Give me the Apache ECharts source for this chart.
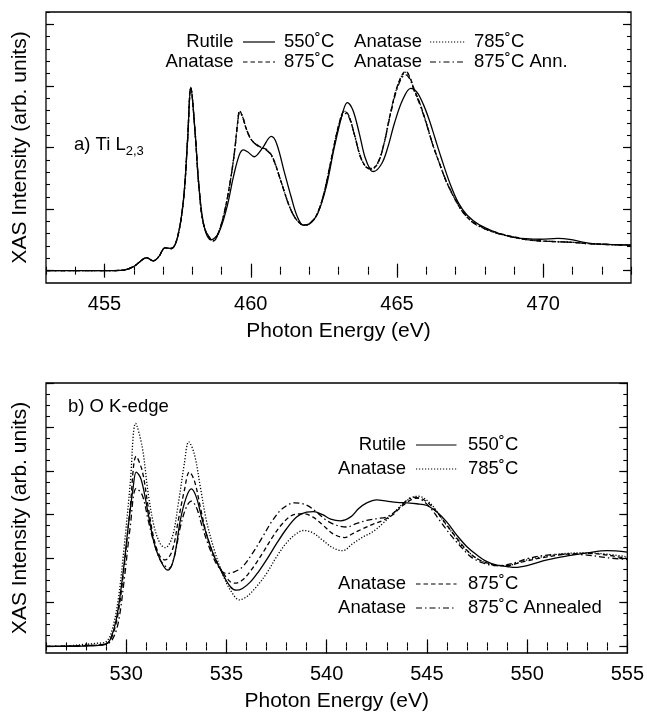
<!DOCTYPE html>
<html>
<head>
<meta charset="utf-8">
<script src="https://cdn.jsdelivr.net/npm/echarts@6/dist/echarts.min.js"></script>
<style>
  html, body { margin: 0; padding: 0; background: #fff; }
  #chart { width: 647px; height: 715px; }
</style>
</head>
<body>
<div id="chart"></div>
<script>
// ---- a) Ti L2,3 ----
const tiMajorTicks = [455, 460, 465, 470];
const tiRutileE = [453, 455, 455.66, 455.99, 456.22, 456.43, 456.67, 456.86, 457.07, 457.28, 457.49, 457.7, 457.84, 457.95, 458.1, 458.23, 458.41, 458.64, 458.9, 459.19, 459.41, 459.61, 459.75, 459.89, 460.12, 460.4, 460.7, 460.88, 461.16, 461.38, 461.59, 461.8, 462.01, 462.29, 462.58, 462.86, 463.17, 463.3, 463.49, 463.71, 463.9, 464.1, 464.2, 464.48, 464.69, 464.91, 465.19, 465.47, 465.68, 465.9, 466.1, 466.3, 466.5, 466.8, 467.1, 467.4, 467.8, 468.4, 468.9, 469.4, 469.9, 470.5, 470.9, 471.4, 471.9, 473];
const tiRutileI = [0, 0, 0.01, 0.065, 0.15, 0.21, 0.16, 0.23, 0.37, 0.36, 0.53, 1.15, 2.12, 2.98, 2.23, 1.36, 0.71, 0.5, 0.61, 1.04, 1.53, 1.88, 1.96, 1.93, 1.85, 1.99, 2.18, 2.07, 1.58, 1.2, 0.88, 0.74, 0.76, 0.93, 1.36, 2.01, 2.61, 2.73, 2.61, 2.23, 1.85, 1.63, 1.61, 1.74, 2.01, 2.39, 2.77, 2.96, 2.9, 2.7, 2.45, 2.15, 1.85, 1.43, 1.1, 0.9, 0.75, 0.62, 0.55, 0.52, 0.51, 0.525, 0.51, 0.46, 0.43, 0.42];
const tiAnataseE = [453, 455, 455.66, 455.99, 456.22, 456.43, 456.67, 456.86, 457.07, 457.28, 457.49, 457.7, 457.84, 457.95, 458.1, 458.23, 458.41, 458.73, 458.9, 459.1, 459.3, 459.45, 459.55, 459.62, 459.72, 459.85, 460.03, 460.32, 460.53, 460.74, 461.02, 461.3, 461.5, 461.7, 461.8, 462.0, 462.25, 462.5, 462.75, 463.0, 463.2, 463.35, 463.55, 463.75, 463.95, 464.13, 464.35, 464.55, 464.75, 464.95, 465.15, 465.3, 465.45, 465.6, 465.78, 466.0, 466.24, 466.5, 466.7, 467.04, 467.3, 467.6, 468.0, 468.4, 469, 469.5, 470, 470.5, 471, 471.5, 472, 473];
const tiAn785I = [0, 0, 0.01, 0.065, 0.15, 0.21, 0.16, 0.23, 0.37, 0.36, 0.53, 1.15, 2.12, 2.97, 2.23, 1.36, 0.71, 0.48, 0.62, 0.95, 1.45, 1.95, 2.4, 2.59, 2.5, 2.3, 2.12, 2.01, 1.97, 1.85, 1.47, 1.07, 0.87, 0.76, 0.74, 0.76, 0.9, 1.25, 1.8, 2.35, 2.59, 2.52, 2.2, 1.85, 1.68, 1.65, 1.75, 2.05, 2.5, 2.9, 3.15, 3.22, 3.12, 2.92, 2.72, 2.4, 2.02, 1.68, 1.43, 1.11, 0.92, 0.78, 0.68, 0.61, 0.54, 0.5, 0.48, 0.47, 0.46, 0.44, 0.43, 0.41];
const tiAn875I = [0, 0, 0.01, 0.065, 0.15, 0.21, 0.16, 0.23, 0.37, 0.36, 0.53, 1.15, 2.12, 2.97, 2.23, 1.36, 0.71, 0.48, 0.62, 0.95, 1.45, 1.95, 2.4, 2.6, 2.5, 2.3, 2.12, 2.01, 1.97, 1.85, 1.47, 1.07, 0.87, 0.76, 0.74, 0.76, 0.9, 1.25, 1.8, 2.35, 2.59, 2.52, 2.2, 1.85, 1.68, 1.65, 1.75, 2.05, 2.5, 2.9, 3.16, 3.24, 3.13, 2.93, 2.72, 2.4, 2.02, 1.68, 1.43, 1.11, 0.92, 0.79, 0.69, 0.62, 0.55, 0.5, 0.48, 0.47, 0.46, 0.44, 0.43, 0.41];
const tiAnAnnI = [0, 0, 0.01, 0.065, 0.15, 0.21, 0.16, 0.23, 0.37, 0.36, 0.53, 1.15, 2.12, 2.96, 2.23, 1.36, 0.71, 0.49, 0.62, 0.95, 1.45, 1.95, 2.38, 2.57, 2.5, 2.3, 2.12, 2.0, 1.96, 1.84, 1.47, 1.07, 0.87, 0.76, 0.74, 0.76, 0.9, 1.25, 1.8, 2.33, 2.56, 2.5, 2.2, 1.85, 1.68, 1.66, 1.76, 2.05, 2.48, 2.87, 3.12, 3.18, 3.1, 2.9, 2.7, 2.39, 2.02, 1.68, 1.44, 1.12, 0.93, 0.78, 0.68, 0.61, 0.54, 0.5, 0.48, 0.47, 0.46, 0.44, 0.43, 0.41];

// ---- b) O K-edge ----
const oMajorTicks = [530, 535, 540, 545, 550, 555];
const oRutileE = [526, 527, 528, 528.5, 529, 529.2, 529.5, 529.8, 530.1, 530.35, 530.5, 530.75, 531.1, 531.4, 531.7, 532.0, 532.1, 532.4, 532.7, 533.0, 533.25, 533.5, 533.8, 534.1, 534.4, 534.8, 535.2, 535.5, 535.8, 536.2, 536.6, 537, 537.5, 538, 538.5, 539, 539.35, 539.8, 540.2, 540.7, 541.2, 541.6, 542, 542.5, 543, 543.5, 544, 544.5, 545, 545.5, 546, 546.5, 547, 547.5, 548, 548.5, 549, 549.4, 550, 551, 552, 553, 554, 555];
const oRutileI = [0, 0, 0.01, 0.02, 0.06, 0.15, 0.6, 1.51, 2.72, 3.63, 3.97, 3.8, 3.02, 2.34, 1.97, 1.75, 1.74, 2.04, 2.87, 3.4, 3.59, 3.4, 2.87, 2.42, 2.04, 1.66, 1.36, 1.28, 1.32, 1.47, 1.7, 1.97, 2.34, 2.68, 2.95, 3.06, 3.07, 3.0, 2.9, 2.86, 2.95, 3.14, 3.27, 3.34, 3.31, 3.28, 3.27, 3.25, 3.21, 3.06, 2.83, 2.53, 2.27, 2.08, 1.93, 1.85, 1.82, 1.8, 1.84, 1.97, 2.06, 2.13, 2.18, 2.15];
const oAn785E = [526, 527, 528, 528.5, 529, 529.3, 529.6, 529.9, 530.2, 530.47, 530.8, 531.1, 531.4, 531.7, 531.95, 532.3, 532.6, 532.9, 533.12, 533.4, 533.7, 534, 534.4, 534.8, 535.2, 535.65, 536, 536.5, 537, 537.5, 538, 538.5, 538.85, 539.3, 539.8, 540.3, 540.8, 541.3, 541.8, 542.3, 542.8, 543.3, 543.8, 544.3, 544.6, 545, 545.4, 545.8, 546.3, 546.8, 547.5, 548, 548.5, 549, 549.5, 550, 551, 552, 553, 554, 555];
const oAn785I = [0, 0.01, 0.05, 0.07, 0.11, 0.38, 1.06, 2.27, 3.7, 5.08, 4.54, 3.48, 2.72, 2.34, 2.25, 2.49, 3.25, 4.16, 4.66, 4.38, 3.63, 2.87, 2.19, 1.66, 1.28, 1.06, 1.13, 1.36, 1.66, 2.04, 2.36, 2.57, 2.64, 2.59, 2.42, 2.25, 2.18, 2.34, 2.49, 2.61, 2.8, 3.02, 3.25, 3.4, 3.42, 3.33, 3.14, 2.87, 2.57, 2.27, 2.0, 1.9, 1.84, 1.84, 1.9, 1.97, 2.06, 2.12, 2.13, 2.1, 2.04];
const oAn875E = [526, 528, 529, 529.3, 529.6, 529.9, 530.2, 530.5, 530.8, 531.1, 531.4, 531.7, 531.95, 532.3, 532.6, 532.9, 533.15, 533.4, 533.7, 534, 534.4, 534.8, 535.2, 535.4, 535.8, 536.3, 536.8, 537.3, 537.8, 538.3, 538.85, 539.3, 539.8, 540.3, 540.9, 541.3, 541.8, 542.3, 542.8, 543.3, 543.8, 544.3, 544.6, 545, 545.5, 546, 546.5, 547, 547.5, 548, 548.5, 549, 549.5, 550, 551, 552, 553, 554, 555];
const oAn875I = [0, 0.02, 0.06, 0.23, 0.76, 1.81, 3.17, 4.33, 4.0, 3.17, 2.42, 2.04, 1.97, 2.19, 2.87, 3.55, 3.97, 3.78, 3.17, 2.57, 2.04, 1.7, 1.47, 1.44, 1.51, 1.78, 2.12, 2.49, 2.8, 2.99, 3.02, 2.95, 2.77, 2.57, 2.48, 2.57, 2.68, 2.78, 2.87, 3.0, 3.21, 3.36, 3.38, 3.29, 3.06, 2.76, 2.46, 2.19, 2.0, 1.9, 1.85, 1.84, 1.89, 1.95, 2.04, 2.1, 2.12, 2.08, 2.0];
const oAnAnnE = [526, 528, 529, 529.3, 529.6, 529.9, 530.2, 530.5, 530.8, 531.1, 531.4, 531.7, 532.0, 532.15, 532.4, 532.7, 533.0, 533.25, 533.5, 533.8, 534.2, 534.6, 535.0, 535.4, 535.8, 536.3, 536.8, 537.3, 537.8, 538.4, 539, 539.5, 540, 540.5, 541, 541.5, 542, 542.5, 543, 543.5, 544, 544.3, 544.7, 545.2, 545.7, 546.2, 546.7, 547.2, 547.8, 548.5, 549, 549.5, 550, 551, 552, 553, 554, 555];
const oAnAnnI = [0, 0.02, 0.05, 0.15, 0.53, 1.51, 2.72, 3.6, 3.45, 2.87, 2.34, 1.97, 1.81, 1.78, 2.04, 2.72, 3.17, 3.31, 3.17, 2.72, 2.19, 1.81, 1.66, 1.7, 1.81, 2.12, 2.49, 2.87, 3.14, 3.27, 3.22, 3.06, 2.87, 2.76, 2.72, 2.8, 2.87, 2.91, 2.95, 3.1, 3.33, 3.4, 3.35, 3.14, 2.83, 2.53, 2.27, 2.04, 1.9, 1.84, 1.86, 1.92, 2.0, 2.08, 2.1, 2.08, 2.02, 1.98];

const FONT = 'Liberation Sans, Arial, Helvetica, sans-serif';
const DOT = [1.2, 1.8], DASH = [4.5, 3], DASHDOT = [6, 3, 1.5, 3];

function range(a, b, step) {
  let out = [];
  for (let v = a; v <= b + 1e-9; v += step) out.push(Math.round(v * 1000) / 1000);
  return out;
}
function zip(xs, ys) { return xs.map((x, i) => [x, ys[i]]); }

// 4 axes per side: major/minor ticks on bottom+top and left+right
function xAxes(grid, min, max, major, minorStep) {
  const minor = range(min, max, minorStep);
  const base = {
    type: 'value', gridIndex: grid, min: min, max: max,
    axisLine: {show: false}, splitLine: {show: false}
  };
  return [
    Object.assign({}, base, {
      position: 'bottom',
      axisTick: {inside: true, length: 7, customValues: major, lineStyle: {color: '#000', width: 1.2}},
      axisLabel: {customValues: major, fontSize: 20, fontFamily: FONT, color: '#000', margin: 11},
      name: 'Photon Energy (eV)', nameLocation: 'middle', nameGap: 38,
      nameTextStyle: {fontSize: 21, fontFamily: FONT, color: '#000'}
    }),
    Object.assign({}, base, {
      position: 'bottom', axisLabel: {show: false},
      axisTick: {inside: true, length: 4, customValues: minor, lineStyle: {color: '#000', width: 1.1}}
    }),
    Object.assign({}, base, {
      position: 'top', axisLabel: {show: false},
      axisTick: {inside: true, length: 7, customValues: major, lineStyle: {color: '#000', width: 1.2}}
    }),
    Object.assign({}, base, {
      position: 'top', axisLabel: {show: false},
      axisTick: {inside: true, length: 4, customValues: minor, lineStyle: {color: '#000', width: 1.1}}
    })
  ];
}
function yAxes(grid, min, max, majorStep, minorStep, topMajor) {
  const major = range(0, topMajor, majorStep);
  const minor = range(0, max, minorStep);
  const base = {
    type: 'value', gridIndex: grid, min: min, max: max,
    axisLine: {show: false}, splitLine: {show: false}, axisLabel: {show: false}
  };
  return [
    Object.assign({}, base, {
      position: 'left',
      axisTick: {inside: true, length: 8, customValues: major, lineStyle: {color: '#000', width: 1.2}},
      name: 'XAS Intensity (arb. units)', nameLocation: 'middle', nameGap: 15,
      nameTextStyle: {fontSize: 21, fontFamily: FONT, color: '#000'}
    }),
    Object.assign({}, base, {
      position: 'left',
      axisTick: {inside: true, length: 4, customValues: minor, lineStyle: {color: '#000', width: 1.1}}
    }),
    Object.assign({}, base, {
      position: 'right',
      axisTick: {inside: true, length: 8, customValues: major, lineStyle: {color: '#000', width: 1.2}}
    }),
    Object.assign({}, base, {
      position: 'right',
      axisTick: {inside: true, length: 4, customValues: minor, lineStyle: {color: '#000', width: 1.1}}
    })
  ];
}
function curve(xIdx, yIdx, xs, ys, dash) {
  return {
    type: 'line', xAxisIndex: xIdx, yAxisIndex: yIdx,
    data: zip(xs, ys), showSymbol: false, smooth: 0.35,
    lineStyle: {color: '#000', width: 1.3, type: dash || 'solid'},
    z: 3
  };
}

// legend built from graphic pieces: "Name —— Temp"
function legendRow(rightX, lineX1, lineX2, textX, y, left, dash, right) {
  return [
    {type: 'text', x: rightX, y: y, style: {text: left, font: '18.5px ' + FONT, fill: '#000', align: 'right', verticalAlign: 'middle'}},
    {type: 'line', shape: {x1: lineX1, y1: y, x2: lineX2, y2: y}, style: {stroke: '#000', lineWidth: 1.2, lineDash: dash}},
    {type: 'text', x: textX, y: y, style: {text: right, font: '18.5px ' + FONT, fill: '#000', align: 'left', verticalAlign: 'middle'}}
  ];
}

const graphics = [].concat(
  legendRow(233.5, 243, 275, 284, 42, 'Rutile', null, '550˚C'),
  legendRow(422, 430, 465, 474, 42, 'Anatase', DOT, '785˚C'),
  legendRow(233.5, 243, 275, 284, 62, 'Anatase', DASH, '875˚C'),
  legendRow(422, 430, 465, 474, 62, 'Anatase', DASHDOT, '875˚C Ann.'),
  legendRow(406, 416, 456.5, 468, 445, 'Rutile', null, '550˚C'),
  legendRow(406, 416, 456.5, 468, 469, 'Anatase', DOT, '785˚C'),
  legendRow(406, 416, 456.5, 468, 584, 'Anatase', DASH, '875˚C'),
  legendRow(406, 416, 456.5, 468, 608, 'Anatase', DASHDOT, '875˚C Annealed'),
  [
    {type: 'text', x: 74, y: 145, style: {
      text: 'a) Ti L{sub|2,3}', font: '18.5px ' + FONT, fill: '#000', verticalAlign: 'middle',
      rich: {sub: {font: '13px ' + FONT, fill: '#000', padding: [12, 0, 0, 0]}}
    }},
    {type: 'text', x: 68, y: 407, style: {text: 'b) O K-edge', font: '18.5px ' + FONT, fill: '#000', verticalAlign: 'middle'}}
  ]
);

const chart = echarts.init(document.getElementById('chart'), null, {renderer: 'canvas'});
chart.setOption({
  animation: false,
  backgroundColor: '#fff',
  grid: [
    {left: 46, top: 12, width: 585, height: 271, show: true, borderColor: '#000', borderWidth: 1.3, backgroundColor: 'transparent'},
    {left: 46, top: 383, width: 585, height: 270, show: true, borderColor: '#000', borderWidth: 1.3, backgroundColor: 'transparent'}
  ],
  xAxis: [].concat(
    xAxes(0, 453, 473, tiMajorTicks, 1),
    xAxes(1, 526, 555, oMajorTicks, 1)
  ),
  yAxis: [].concat(
    yAxes(0, -0.2, 4.2, 1, 0.2, 4),
    yAxes(1, -0.15, 6, 1, 0.25, 6)
  ),
  series: [
    curve(0, 0, tiRutileE, tiRutileI),
    curve(0, 0, tiAnataseE, tiAn785I, DOT),
    curve(0, 0, tiAnataseE, tiAn875I, DASH),
    curve(0, 0, tiAnataseE, tiAnAnnI, DASHDOT),
    curve(4, 4, oRutileE, oRutileI),
    curve(4, 4, oAn785E, oAn785I, DOT),
    curve(4, 4, oAn875E, oAn875I, DASH),
    curve(4, 4, oAnAnnE, oAnAnnI, DASHDOT)
  ],
  graphic: graphics
});
</script>
</body>
</html>
